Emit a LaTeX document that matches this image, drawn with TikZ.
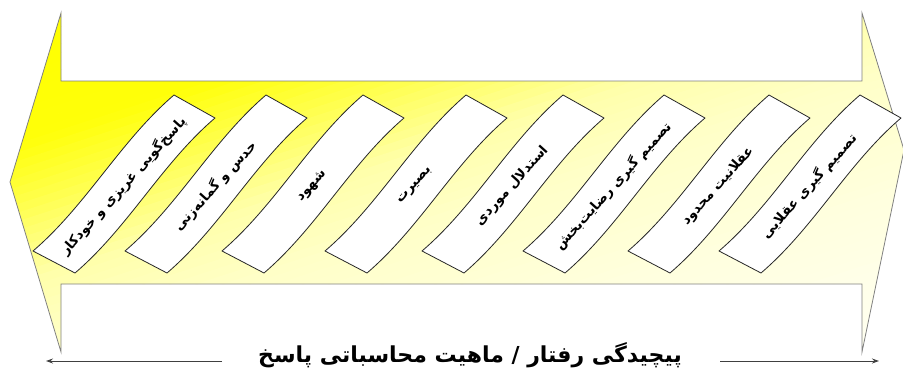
\documentclass[tikz,border=0pt]{standalone}
\usepackage{fontspec}
\newfontfamily\fa[Script=Arabic]{DejaVu Sans}
\TeXXeTstate=1
\usetikzlibrary{arrows.meta}
\definecolor{edgegray}{RGB}{128,128,128}
\begin{document}
\begin{tikzpicture}[x=1pt,y=-1pt,
  arrowedge/.style={draw=edgegray, line width=0.8pt, line join=miter},
  banner/.style={draw=black!85, fill=white, line width=0.8pt, line join=round},
  lbl/.style={font=\fa\bfseries\fontsize{13.5}{16}\selectfont, rotate=48, inner sep=0pt},
  ttl/.style={font=\fa\bfseries\fontsize{22}{25}\selectfont, inner sep=0pt},
  axisline/.style={draw=black!75, line width=1pt, -{Stealth[length=7pt,width=5pt]}}]
\useasboundingbox (0,0) rectangle (903,372);
\begin{scope}
  \clip (61,81) -- (61,13) -- (10,182) -- (61,352) -- (61,284) -- (862,284) -- (862,352) -- (904,150) -- (862,13) -- (862,81) -- cycle;
  \begin{scope}[rotate around={18:(457,182)}]
    \foreach \k in {0,...,69}{
      \pgfmathsetmacro{\f}{(\k+0.5)/70}
      \pgfmathtruncatemacro{\bv}{\f<0.2 ? 50*\f : (\f<0.3 ? 10+650*(\f-0.2) : (\f<0.43 ? 75+730.8*(\f-0.3) : (\f<0.55 ? 170+250*(\f-0.43) : (\f<0.75 ? 200+110*(\f-0.55) : 222+80*(\f-0.75)))))}
      \definecolor{stripc}{RGB}{255,255,\bv}
      \fill[stripc] (-250,-105+\k*8.2) rectangle (1160,-105+\k*8.2+8.8);
    }
  \end{scope}
\end{scope}
\path[arrowedge] (61,81) -- (61,13) -- (10,182) -- (61,352) -- (61,284) -- (862,284) -- (862,352) -- (904,150) -- (862,13) -- (862,81) -- cycle;
\foreach \x/\txt/\i in {33/پاسخ‌گویی غریزی و خودکار/1, 125/حدس و گمانه‌زنی/2, 222/شهود/3, 325/بصیرت/4, 422/استدلال موردی/5, 523/تصمیم گیری رضایت‌بخش/6, 628/عقلانیت محدود/7, 719/تصمیم گیری عقلایی/8}{
  \path[banner] (\x,251) .. controls (\x+53.7,205) and (\x+87.3,141) .. (\x+141,95) -- (\x+182,118) .. controls (\x+128.6,163.7) and (\x+95.4,227.3) .. (\x+42,273) -- cycle;
  \node[lbl] (b\i) at (\x+90,186) {\beginR\txt\endR};
}
\node[ttl] (title) at (470,355) {\beginR پیچیدگی رفتار / ماهیت محاسباتی پاسخ\endR};
\coordinate (lstart) at (222,361);
\coordinate (lend) at (46,361);
\coordinate (rstart) at (720,361);
\coordinate (rend) at (879,361);
\draw[axisline] (lstart) -- (lend);
\draw[axisline] (rstart) -- (rend);
\end{tikzpicture}
\end{document}
